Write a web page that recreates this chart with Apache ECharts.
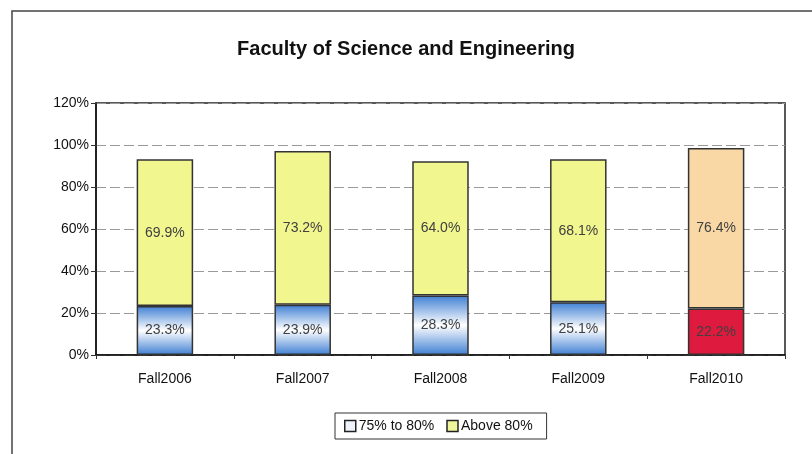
<!DOCTYPE html>
<html>
<head>
<meta charset="utf-8">
<style>
  html, body { margin: 0; padding: 0; background: #fff; }
  #chart { width: 812px; height: 454px; }
</style>
<script src="https://cdn.jsdelivr.net/npm/echarts@6/dist/echarts.min.js"></script>
</head>
<body>
<div id="chart"></div>
<script>
// Share of students by term, split into two score bands (percent)
const categories = ['Fall2006', 'Fall2007', 'Fall2008', 'Fall2009', 'Fall2010'];
const band75to80 = [23.3, 23.9, 28.3, 25.1, 22.2];
const bandAbove80 = [69.9, 73.2, 64.0, 68.1, 76.4];
const yTicks = [0, 20, 40, 60, 80, 100, 120];

const FONT = '"Liberation Sans", Arial, sans-serif';

const blueBand = new echarts.graphic.LinearGradient(0, 0, 0, 1, [
  { offset: 0, color: '#3f7fd3' },
  { offset: 0.5, color: '#ffffff' },
  { offset: 1, color: '#3f7fd3' }
]);

// The last term uses its own palette
const lastIdx = categories.length - 1;
const lowData = band75to80.map((v, i) => i === lastIdx
  ? { value: v, itemStyle: { color: '#de1a3e' } }
  : { value: v });
const highData = bandAbove80.map((v, i) => i === lastIdx
  ? { value: v, itemStyle: { color: '#f9d8a6' } }
  : { value: v });

const labelStyle = {
  show: true,
  position: 'inside',
  formatter: p => p.value.toFixed(1) + '%',
  color: '#404040',
  fontFamily: FONT,
  fontSize: 14
};

const chart = echarts.init(document.getElementById('chart'), null, { renderer: 'canvas' });
chart.setOption({
  animation: false,
  backgroundColor: '#ffffff',
  title: {
    text: 'Faculty of Science and Engineering',
    left: 'center',
    top: 34,
    textStyle: { fontFamily: FONT, fontSize: 20, fontWeight: 'bold', color: '#111' }
  },
  graphic: [{
    type: 'polyline',
    shape: { points: [[12, 454], [12, 11], [812, 11]] },
    style: { stroke: '#444', lineWidth: 1.5, fill: null },
    silent: true
  }],
  legend: {
    left: 335,
    top: 413,
    itemWidth: 11,
    itemHeight: 11,
    itemGap: 12,
    padding: [6, 14, 6, 9],
    borderColor: '#333',
    borderWidth: 1,
    textStyle: { fontFamily: FONT, fontSize: 14, color: '#111', padding: [0, 0, 0, -2] },
    data: [
      { name: '75% to 80%', icon: 'rect', itemStyle: { color: '#eef3fb', borderColor: '#222', borderWidth: 1.5 } },
      { name: 'Above 80%', icon: 'rect', itemStyle: { color: '#eef59a', borderColor: '#222', borderWidth: 1.5 } }
    ]
  },
  grid: {
    left: 96, right: 27, top: 103, bottom: 99,
    show: true,
    borderColor: '#222',
    borderWidth: 1.5,
    backgroundColor: 'transparent'
  },
  xAxis: {
    type: 'category',
    data: categories,
    axisLine: { lineStyle: { color: '#111', width: 1.5 } },
    axisTick: { show: true, alignWithLabel: false, length: 4, lineStyle: { color: '#333' } },
    axisLabel: { fontFamily: FONT, fontSize: 14, color: '#111', margin: 17 }
  },
  yAxis: {
    type: 'value',
    min: yTicks[0],
    max: yTicks[yTicks.length - 1],
    interval: 20,
    axisLine: { show: true, lineStyle: { color: '#111', width: 1.5 } },
    axisTick: { show: true, length: 5, lineStyle: { color: '#333' } },
    axisLabel: { fontFamily: FONT, fontSize: 14, color: '#111', formatter: v => v + '%', margin: 7 },
    splitLine: { show: true, lineStyle: { color: '#9a9a9a', type: [10, 4], width: 1 } }
  },
  series: [
    {
      name: '75% to 80%',
      type: 'bar',
      stack: 'total',
      barWidth: '41%',
      data: lowData,
      itemStyle: { color: blueBand, borderColor: '#333', borderWidth: 1.5 },
      label: labelStyle
    },
    {
      name: 'Above 80%',
      type: 'bar',
      stack: 'total',
      barWidth: '41%',
      data: highData,
      itemStyle: { color: '#f1f68f', borderColor: '#333', borderWidth: 1.5 },
      label: labelStyle
    }
  ]
});
</script>
</body>
</html>
